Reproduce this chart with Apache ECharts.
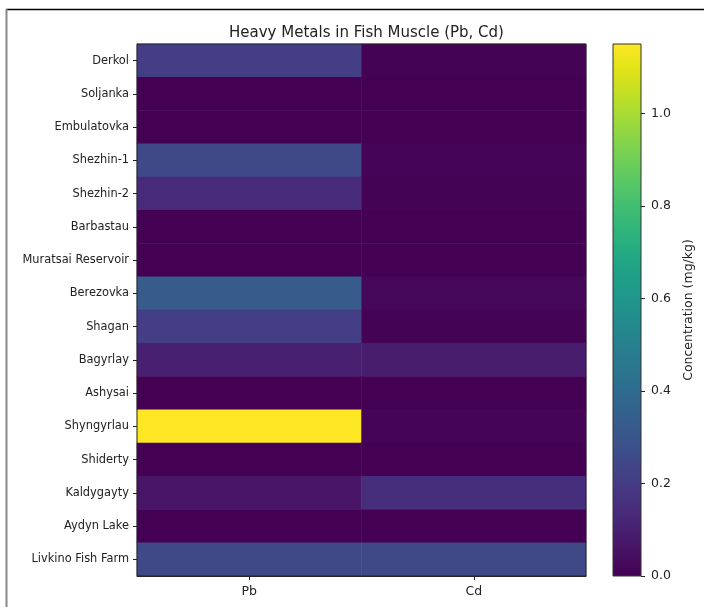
<!DOCTYPE html>
<html>
<head>
<meta charset="utf-8">
<script src="https://cdn.jsdelivr.net/npm/echarts@6/dist/echarts.min.js"></script>
<style>
  html, body { margin: 0; padding: 0; background: #fff; }
  #chart { width: 704px; height: 607px; }
</style>
</head>
<body>
<div id="chart"></div>
<script>
// Sampling sites, top to bottom
const sites = [
  'Derkol', 'Soljanka', 'Embulatovka', 'Shezhin-1', 'Shezhin-2', 'Barbastau',
  'Muratsai Reservoir', 'Berezovka', 'Shagan', 'Bagyrlay', 'Ashysai',
  'Shyngyrlau', 'Shiderty', 'Kaldygayty', 'Aydyn Lake', 'Livkino Fish Farm'
];
const metals = ['Pb', 'Cd'];

// Concentrations in fish muscle, mg/kg
const pbValues = [0.21, 0.00, 0.00, 0.25, 0.14, 0.00, 0.00, 0.33, 0.21, 0.10, 0.00, 1.15, 0.00, 0.06, 0.00, 0.25];
const cdValues = [0.005, 0.00, 0.00, 0.01, 0.005, 0.00, 0.00, 0.02, 0.005, 0.09, 0.00, 0.01, 0.00, 0.15, 0.00, 0.25];

// Colour scale range and colorbar ticks
const colorRange = [0, 1.15];
const colorbarTicks = [0, 0.2, 0.4, 0.6, 0.8, 1.0];

const viridis = [
  '#440154', '#471365', '#482475', '#463480', '#414487', '#3b528b', '#355f8d',
  '#2f6c8e', '#2a788e', '#25848e', '#21918c', '#1e9c89', '#22a884', '#2fb47c',
  '#44bf70', '#5ec962', '#7ad151', '#9bd93c', '#bddf26', '#dfe318', '#fde725'
];

const cells = [];
sites.forEach((s, i) => {
  cells.push([0, i, pbValues[i]]);
  cells.push([1, i, cdValues[i]]);
});

const font = 'DejaVu Sans';
const textColor = '#222';

const chart = echarts.init(document.getElementById('chart'), null, { renderer: 'canvas' });

const gradientStops = viridis.map((c, i) => ({ offset: i / (viridis.length - 1), color: c }));

chart.setOption({
  backgroundColor: '#fff',
  animation: false,
  textStyle: { fontFamily: font },
  title: {
    text: 'Heavy Metals in Fish Muscle (Pb, Cd)',
    left: 361.5,
    textAlign: 'center',
    top: 21,
    textStyle: { fontFamily: font, fontSize: 15, fontWeight: 'normal', color: textColor }
  },
  graphic: [
    { type: 'line', shape: { x1: 6, y1: 9.5, x2: 704, y2: 9.5 }, style: { stroke: '#000', lineWidth: 1.5 }, silent: true },
    { type: 'line', shape: { x1: 6.5, y1: 9, x2: 6.5, y2: 607 }, style: { stroke: '#888', lineWidth: 2 }, silent: true }
  ],
  grid: [
    { left: 137, right: 118, top: 44, bottom: 31, show: true, z: 5,
      backgroundColor: 'transparent', borderColor: '#222', borderWidth: 1 },
    { left: 613, width: 28, top: 44, height: 532, show: true, z: 5,
      backgroundColor: 'transparent', borderColor: '#333', borderWidth: 1 }
  ],
  xAxis: [
    {
      type: 'category', gridIndex: 0, data: metals,
      axisLine: { show: true, lineStyle: { color: '#222' } },
      axisTick: { show: true, alignWithLabel: true, length: 4, lineStyle: { color: '#222' } },
      axisLabel: { fontFamily: font, fontSize: 12.5, color: textColor, margin: 9 },
      splitLine: { show: false }
    },
    {
      type: 'category', gridIndex: 1, data: [''],
      axisLine: { show: false }, axisTick: { show: false }, axisLabel: { show: false }
    }
  ],
  yAxis: [
    {
      type: 'category', gridIndex: 0, data: sites, inverse: true,
      axisLine: { show: true, lineStyle: { color: '#222' } },
      axisTick: { show: true, alignWithLabel: true, length: 4, lineStyle: { color: '#222' } },
      axisLabel: { fontFamily: font, fontSize: 11.4, color: textColor, margin: 8 },
      splitLine: { show: false }
    },
    {
      type: 'value', gridIndex: 1, position: 'right',
      min: colorRange[0], max: colorRange[1],
      axisLine: { show: false },
      axisTick: { show: true, length: 4, customValues: colorbarTicks, lineStyle: { color: '#222' } },
      axisLabel: {
        fontFamily: font, fontSize: 12.5, color: textColor, margin: 10,
        customValues: colorbarTicks,
        formatter: v => v.toFixed(1)
      },
      splitLine: { show: false },
      name: 'Concentration (mg/kg)',
      nameLocation: 'middle',
      nameRotate: 90,
      nameGap: 41,
      nameTextStyle: { fontFamily: font, fontSize: 12.5, color: textColor }
    }
  ],
  visualMap: {
    show: false,
    type: 'continuous',
    seriesIndex: 0,
    min: colorRange[0],
    max: colorRange[1],
    inRange: { color: viridis }
  },
  series: [
    {
      type: 'heatmap',
      xAxisIndex: 0, yAxisIndex: 0,
      data: cells,
      emphasis: { disabled: true }
    },
    {
      type: 'bar',
      xAxisIndex: 1, yAxisIndex: 1,
      data: [colorRange[1]],
      barWidth: '100%',
      silent: true,
      itemStyle: {
        color: new echarts.graphic.LinearGradient(0, 1, 0, 0, gradientStops)
      }
    }
  ]
});
</script>
</body>
</html>
